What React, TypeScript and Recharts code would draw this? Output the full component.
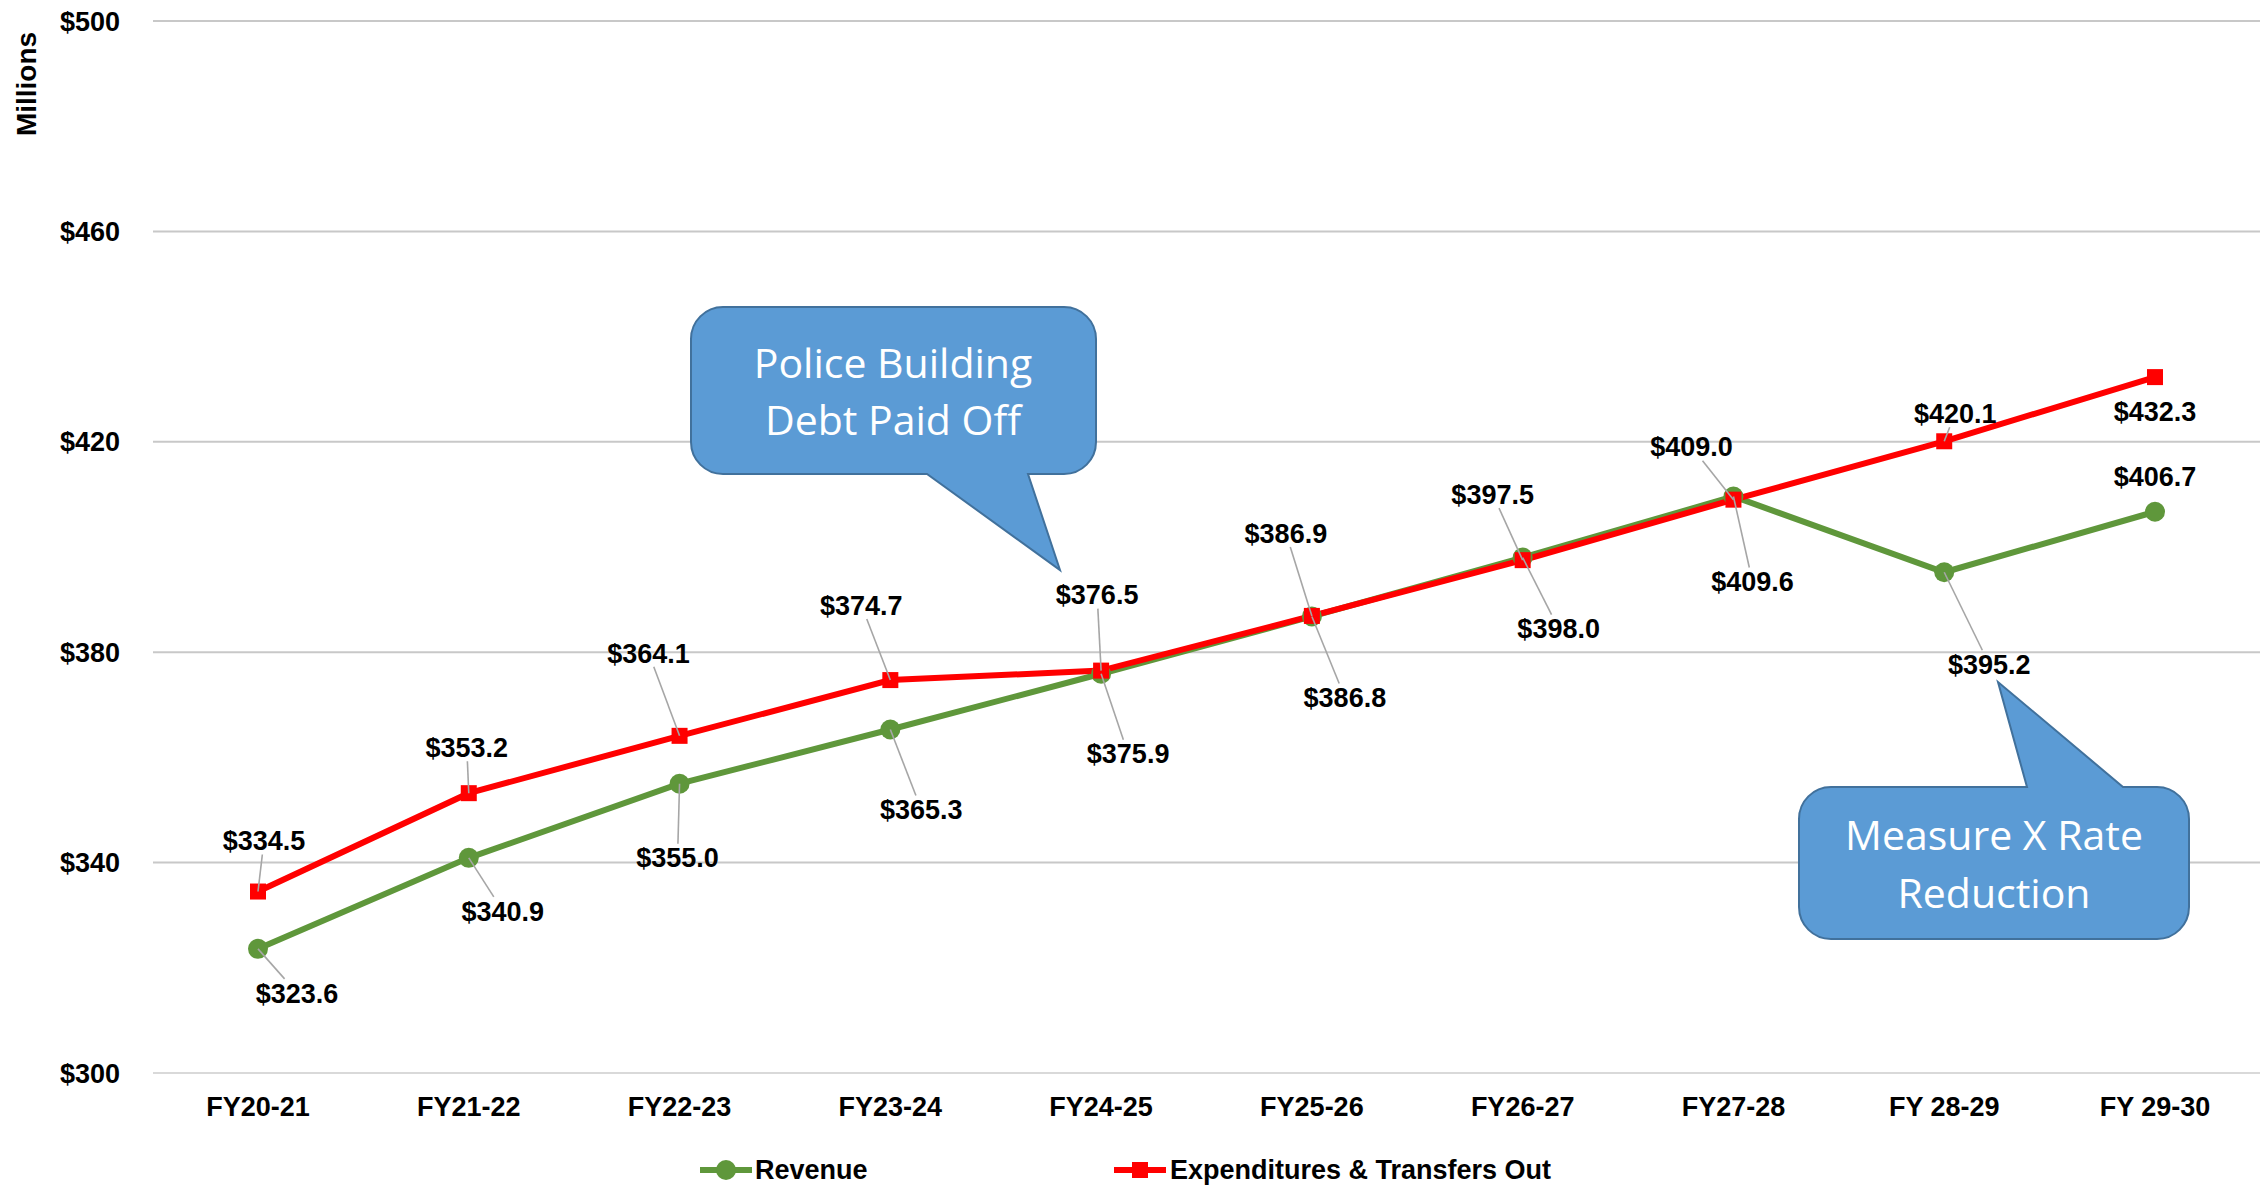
import React from 'react';
import { LineChart, Line, XAxis, YAxis, CartesianGrid, Legend, LabelList } from 'recharts';

const categories = ['FY20-21', 'FY21-22', 'FY22-23', 'FY23-24', 'FY24-25', 'FY25-26', 'FY26-27', 'FY27-28', 'FY 28-29', 'FY 29-30'];
const revenue = [323.6, 340.9, 355.0, 365.3, 375.9, 386.8, 398.0, 409.6, 395.2, 406.7];
const expenditures = [334.5, 353.2, 364.1, 374.7, 376.5, 386.9, 397.5, 409.0, 420.1, 432.3];
const yTicks = [300, 340, 380, 420, 460, 500];

// label placement offsets (dx, dy) from each point, in px, and leader-line visibility
const revenueLabelOffsets: [number, number][] = [
  [39, 44], [34, 53], [-2, 74], [31, 80], [27, 80], [33, 81], [36, 71], [19, 85], [45, 92], [0, -35],
];
const expLabelOffsets: [number, number][] = [
  [6, -51], [-2, -46], [-31, -83], [-29, -75], [-4, -76], [-26, -83], [-30, -66], [-42, -53], [11, -28], [0, 34],
];
const revenueLeaders = [true, true, true, true, true, true, true, true, true, false];
const expLeaders = [true, true, true, true, true, true, true, true, true, false];

const data = categories.map((c, i) => ({ name: c, revenue: revenue[i], expenditures: expenditures[i] }));

const GREEN = '#5f973b';
const RED = '#ff0000';
const FONT = '"Liberation Sans", Arial, sans-serif';

const makeLabel = (offsets: [number, number][], leaders: boolean[]) => (props: any) => {
  const { x, y, value, index } = props;
  if (x == null || y == null) return null;
  const [dx, dy] = offsets[index] || [0, -30];
  const cx = x + dx;
  const cy = y + dy;
  const hw = 44;
  const hh = 14;
  const vx = x - cx;
  const vy = y - cy;
  const t = Math.min(vx !== 0 ? hw / Math.abs(vx) : Infinity, vy !== 0 ? hh / Math.abs(vy) : Infinity);
  let line = null;
  if (leaders[index] && t < 1) {
    const ex = cx + vx * t;
    const ey = cy + vy * t;
    line = <line x1={ex} y1={ey} x2={x} y2={y} stroke="#a6a6a6" strokeWidth={1.6} />;
  }
  return (
    <g>
      {line}
      <text x={cx} y={cy} dy="0.36em" textAnchor="middle" fontFamily={FONT} fontWeight="bold" fontSize={27} fill="#000">
        {'$' + Number(value).toFixed(1)}
      </text>
    </g>
  );
};

const SquareDot = (props: any) => {
  const { cx, cy } = props;
  if (cx == null || cy == null) return null;
  return <rect x={cx - 8} y={cy - 8} width={16} height={16} fill={RED} />;
};

const CircleDot = (props: any) => {
  const { cx, cy } = props;
  if (cx == null || cy == null) return null;
  return <circle cx={cx} cy={cy} r={10} fill={GREEN} />;
};

const LegendContent = () => (
  <div style={{ position: 'relative', width: 2260, height: 40, fontFamily: FONT, fontWeight: 'bold', fontSize: 27 }}>
    <div style={{ position: 'absolute', left: 700, top: 0, height: 40, display: 'flex', alignItems: 'center' }}>
      <svg width={52} height={24}>
        <line x1={0} y1={12} x2={52} y2={12} stroke={GREEN} strokeWidth={6} />
        <circle cx={26} cy={12} r={10} fill={GREEN} />
      </svg>
      <span style={{ marginLeft: 3 }}>Revenue</span>
    </div>
    <div style={{ position: 'absolute', left: 1114, top: 0, height: 40, display: 'flex', alignItems: 'center' }}>
      <svg width={52} height={24}>
        <line x1={0} y1={12} x2={52} y2={12} stroke={RED} strokeWidth={6} />
        <rect x={18} y={4} width={16} height={16} fill={RED} />
      </svg>
      <span style={{ marginLeft: 4 }}>Expenditures &amp; Transfers Out</span>
    </div>
  </div>
);

const calloutPolice = (() => {
  const l = 691, rgt = 1096, t = 307, b = 474, r = 32;
  return `M ${l + r} ${t} H ${rgt - r} A ${r} ${r} 0 0 1 ${rgt} ${t + r} V ${b - r} A ${r} ${r} 0 0 1 ${rgt - r} ${b} H 1028 L 1060 570 L 927 ${b} H ${l + r} A ${r} ${r} 0 0 1 ${l} ${b - r} V ${t + r} A ${r} ${r} 0 0 1 ${l + r} ${t} Z`;
})();

const calloutMeasure = (() => {
  const l = 1799, rgt = 2189, t = 787, b = 939, r = 32;
  return `M ${l + r} ${t} H 2027 L 1998 682 L 2123 ${t} H ${rgt - r} A ${r} ${r} 0 0 1 ${rgt} ${t + r} V ${b - r} A ${r} ${r} 0 0 1 ${rgt - r} ${b} H ${l + r} A ${r} ${r} 0 0 1 ${l} ${b - r} V ${t + r} A ${r} ${r} 0 0 1 ${l + r} ${t} Z`;
})();

const CALLOUT_FONT = '"Open Sans", "Noto Sans", sans-serif';

export default function App() {
  return (
    <div style={{ position: 'absolute', left: 0, top: 0, width: 2260, height: 1190, background: '#fff' }}>
      <LineChart width={2260} height={1190} data={data} margin={{ top: 21, right: 0, bottom: 0, left: 0 }}>
        <CartesianGrid vertical={false} stroke="#c8c8c8" strokeWidth={2} />
        <XAxis
          dataKey="name"
          height={77}
          padding={{ left: 105, right: 105 }}
          axisLine={{ stroke: '#d9d9d9', strokeWidth: 2 }}
          tickLine={false}
          tickSize={0}
          tickMargin={24}
          tick={{ fill: '#000', fontFamily: FONT, fontWeight: 'bold', fontSize: 27 }}
          interval={0}
        />
        <YAxis
          width={153}
          domain={[300, 500]}
          ticks={yTicks}
          axisLine={false}
          tickLine={false}
          tickSize={0}
          tickMargin={33}
          tickFormatter={(v: number) => '$' + v}
          tick={{ fill: '#000', fontFamily: FONT, fontWeight: 'bold', fontSize: 27 }}
        />
        <Legend verticalAlign="bottom" content={<LegendContent />} wrapperStyle={{ left: 0, bottom: 0, width: 2260, height: 40 }} />
        <Line
          type="linear"
          dataKey="revenue"
          name="Revenue"
          stroke={GREEN}
          strokeWidth={6}
          dot={<CircleDot />}
          activeDot={false}
          isAnimationActive={false}
        >
          <LabelList dataKey="revenue" content={makeLabel(revenueLabelOffsets, revenueLeaders)} />
        </Line>
        <Line
          type="linear"
          dataKey="expenditures"
          name="Expenditures & Transfers Out"
          stroke={RED}
          strokeWidth={6}
          dot={<SquareDot />}
          activeDot={false}
          isAnimationActive={false}
        >
          <LabelList dataKey="expenditures" content={makeLabel(expLabelOffsets, expLeaders)} />
        </Line>
      </LineChart>
      <svg width={2260} height={1190} style={{ position: 'absolute', left: 0, top: 0, pointerEvents: 'none' }}>
        <text
          x={26}
          y={84}
          transform="rotate(-90 26 84)"
          textAnchor="middle"
          dy="0.36em"
          fontFamily={FONT}
          fontWeight="bold"
          fontSize={28}
          fill="#000"
        >
          Millions
        </text>
        <path d={calloutPolice} fill="#5b9bd5" stroke="#41719c" strokeWidth={2} />
        <text x={893} y={378} textAnchor="middle" fontFamily={CALLOUT_FONT} fontSize={41} fill="#fff">Police Building</text>
        <text x={893} y={435} textAnchor="middle" fontFamily={CALLOUT_FONT} fontSize={41} fill="#fff">Debt Paid Off</text>
        <path d={calloutMeasure} fill="#5b9bd5" stroke="#41719c" strokeWidth={2} />
        <text x={1994} y={850} textAnchor="middle" fontFamily={CALLOUT_FONT} fontSize={41} fill="#fff">Measure X Rate</text>
        <text x={1994} y={908} textAnchor="middle" fontFamily={CALLOUT_FONT} fontSize={41} fill="#fff">Reduction</text>
      </svg>
    </div>
  );
}
